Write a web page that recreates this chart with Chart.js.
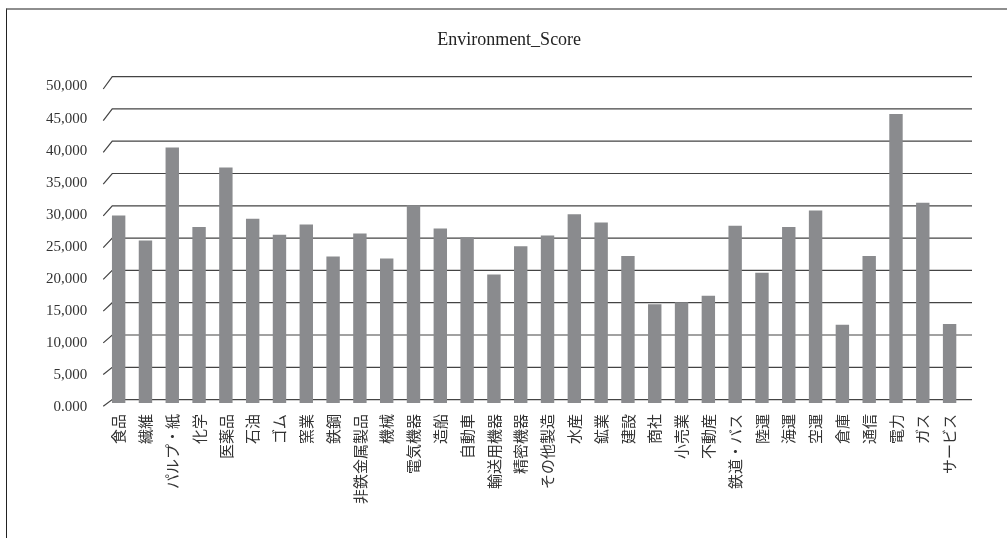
<!DOCTYPE html>
<html>
<head>
<meta charset="utf-8">
<script src="https://cdn.jsdelivr.net/npm/chart.js@4/dist/chart.umd.min.js"></script>
<style>
  body { margin: 0; background: #fff; }
  #wrap { position: relative; width: 1007px; height: 538px; }
  #frame {
    position: absolute; left: 6px; top: 8px; right: 0; bottom: 0;
    border-top: 2px solid #8e8e8e; border-left: 1px solid #222;
    pointer-events: none;
  }
</style>
</head>
<body>
<div id="wrap">
  <canvas id="chart" width="1007" height="538"></canvas>
  <div id="frame"></div>
</div>
<script>
// données du graphique
const chartTitle = 'Environment_Score';
const categories = ['食品', '繊維', 'パルプ・紙', '化学', '医薬品', '石油', 'ゴム', '窯業', '鉄鋼', '非鉄金属製品',
  '機械', '電気機器', '造船', '自動車', '輸送用機器', '精密機器', 'その他製造', '水産', '鉱業', '建設',
  '商社', '小売業', '不動産', '鉄道・バス', '陸運', '海運', '空運', '倉庫', '通信', '電力', 'ガス', 'サービス'];
const scores = [29200, 25300, 39800, 27400, 36700, 28700, 26200, 27800, 22800, 26400,
  22500, 30800, 27200, 25800, 20000, 24400, 26100, 29400, 28100, 22900,
  15400, 15700, 16700, 27600, 20300, 27400, 30000, 12200, 22900, 45000, 31200, 12300];
const yMin = 0;
const yMax = 50000;
const yStep = 5000;

// lignes de grille "3D" avec petite diagonale a gauche
const backGrid = {
  id: 'backGrid',
  beforeDatasetsDraw(chart) {
    const { ctx, chartArea, scales } = chart;
    const y = scales.y;
    ctx.save();
    ctx.strokeStyle = '#444';
    ctx.lineWidth = 1.2;
    y.ticks.forEach(t => {
      const f = t.value / yMax;
      const yf = y.getPixelForValue(t.value);
      const yBack = yf - 3.4 - 2 * f;
      const yFront = yf + 3.3 + 3.7 * f;
      ctx.beginPath();
      ctx.moveTo(chartArea.left - 2, yFront);
      ctx.lineTo(chartArea.left + 7, yBack);
      ctx.lineTo(chartArea.right + 9, yBack);
      ctx.stroke();
    });
    ctx.restore();
  }
};

// titre
const titleText = {
  id: 'titleText',
  afterDraw(chart) {
    const { ctx, chartArea } = chart;
    ctx.save();
    ctx.fillStyle = '#222';
    ctx.font = '18px "Liberation Serif", "DejaVu Serif", serif';
    ctx.textAlign = 'center';
    ctx.textBaseline = 'middle';
    ctx.fillText(chartTitle, (chartArea.left + chartArea.right) / 2 - 25, 40);
    ctx.restore();
  }
};

const ctx = document.getElementById('chart').getContext('2d');
const myChart = new Chart(ctx, {
  type: 'bar',
  data: {
    labels: categories,
    datasets: [{
      label: chartTitle,
      data: scores,
      backgroundColor: '#8a8b8e',
      borderWidth: 0,
      barPercentage: 0.5,
      categoryPercentage: 1
    }]
  },
  options: {
    responsive: false,
    animation: false,
    layout: { padding: { left: 28, right: 44, top: 82, bottom: 23 } },
    plugins: {
      legend: { display: false },
      tooltip: { enabled: false },
      title: { display: false }
    },
    scales: {
      x: {
        grid: { display: false, drawTicks: false },
        border: { display: false },
        ticks: {
          minRotation: 90,
          maxRotation: 90,
          autoSkip: false,
          padding: 11,
          color: '#333',
          font: { family: '"Noto Sans CJK JP", sans-serif', size: 15 }
        }
      },
      y: {
        min: yMin,
        max: yMax,
        grid: { display: false, drawTicks: false },
        border: { display: false },
        ticks: {
          stepSize: yStep,
          padding: 18,
          labelOffset: 4.5,
          color: '#333',
          font: { family: '"Liberation Serif", "DejaVu Serif", serif', size: 15 },
          callback: v => v === 0 ? '0.000' : v.toLocaleString('en-US')
        }
      }
    }
  },
  plugins: [backGrid, titleText]
});
</script>
</body>
</html>
